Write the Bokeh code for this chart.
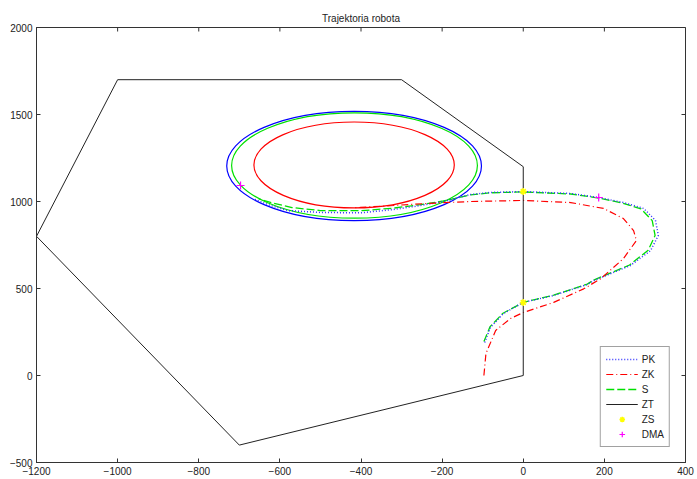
from bokeh.plotting import figure
from bokeh.models import FixedTicker, Legend, LegendItem, Range1d
from bokeh.embed import file_html
from bokeh.resources import INLINE

# ---- data ----
x_ticks = [-1200, -1000, -800, -600, -400, -200, 0, 200, 400]
y_ticks = [-500, 0, 500, 1000, 1500, 2000]

# PK (blue dotted) path
pk_x = [-95, -81, -49, 0, 75, 158, 174, 264, 314, 333, 326, 297, 247, 186, 117, 0,
        -81, -130, -197, -253, -320, -400, -500, -581, -623, -665]
pk_y = [190, 276, 356, 420, 460, 523, 546, 632, 718, 805, 891, 960, 994, 1023, 1046, 1057,
        1052, 1040, 1000, 977, 954, 935, 937, 948, 977, 1015]

# ZK (red dash-dot) path
zk_x = [-97, -92, -68, -31, 0, 75, 149, 191, 247, 279, 272, 247, 198, 117, 0,
        -130, -236, -320, -401, -417]
zk_y = [0, 126, 259, 328, 362, 420, 498, 556, 672, 776, 833, 902, 960, 994, 1006,
        1000, 989, 977, 966, 964]

# S (green dashed) path
s_x = [-97, -82, -50, 0, 75, 158, 173, 262, 308, 325, 318, 290, 243, 186, 117, 0,
       -81, -130, -197, -253, -320, -400, -500, -570, -615, -652]
s_y = [195, 280, 358, 420, 462, 525, 548, 635, 720, 805, 890, 958, 992, 1020, 1043, 1055,
       1050, 1038, 1003, 982, 962, 947, 948, 965, 990, 1015]

# circular loops: centre x, centre y, radius
loop_cx = [-417, -416, -417]
loop_cy = [1204, 1207, 1210]
loop_r = [314, 303, 247]
loop_col = ["#0000ff", "#00e000", "#ff0000"]

# ZT polygon (black)
zt_x = [-1200, -1000, -300, 0, 0, -700, -1200]
zt_y = [800, 1700, 1700, 1200, 0, -400, 800]

# ZS (yellow) and DMA (magenta) markers
zs_x = [0, 0]
zs_y = [1057, 420]
dma_x = [-697, 186]
dma_y = [1092, 1023]

FONT = "Liberation Sans"
X0, X1 = x_ticks[0], x_ticks[-1]
Y0, Y1 = y_ticks[0], y_ticks[-1]

p = figure(width=697, height=479,
           x_range=Range1d(X0, X1), y_range=Range1d(Y0, Y1),
           output_backend="svg", toolbar_location=None,
           min_border_left=36, min_border_right=12, min_border_top=27, min_border_bottom=17,
           title="Trajektoria robota")
p.title.align = "center"
p.title.text_font = FONT
p.title.text_font_size = "10px"
p.title.text_font_style = "normal"
p.title.text_color = "#222222"
p.title.standoff = 8

p.xgrid.visible = False
p.ygrid.visible = False
p.outline_line_color = "#333333"

def style_axis(ax, ticks):
    ax.ticker = FixedTicker(ticks=ticks)
    ax.major_tick_in = 4
    ax.major_tick_out = 0
    ax.minor_tick_line_color = None
    ax.axis_line_color = "#333333"
    ax.major_tick_line_color = "#333333"
    ax.major_label_text_font = FONT
    ax.major_label_text_font_size = "10px"
    ax.major_label_text_color = "#222222"
    ax.major_label_standoff = 4

style_axis(p.xaxis[0], x_ticks)
style_axis(p.yaxis[0], y_ticks)

# inner ticks on the top and right edges (MATLAB box style)
p.scatter(x=x_ticks, y=[Y1] * len(x_ticks), marker="dash", angle=1.5708,
          size=8, line_color="#333333", line_width=1)
p.scatter(x=[X1] * len(y_ticks), y=y_ticks, marker="dash",
          size=8, line_color="#333333", line_width=1)

# loops
p.ellipse(x=loop_cx, y=loop_cy, width=[2 * r for r in loop_r], height=[2 * r for r in loop_r],
          fill_color=None, line_color=loop_col, line_width=1.2)

r_s = p.line(s_x, s_y, line_color="#00e000", line_dash="8 3", line_width=1.3)
r_pk = p.line(pk_x, pk_y, line_color="#3030ff", line_dash="1 2", line_width=1.5)
r_zk = p.line(zk_x, zk_y, line_color="#ff0000", line_dash="7 3 1 3", line_width=1.2)
r_zt = p.line(zt_x, zt_y, line_color="#222222", line_width=1)
r_zs = p.scatter(zs_x, zs_y, marker="asterisk", size=7, line_color="#ffff00", line_width=1.5)
r_dma = p.scatter(dma_x, dma_y, marker="cross", size=8, line_color="#ff00ff", line_width=1.2)

legend = Legend(items=[
    LegendItem(label="PK", renderers=[r_pk]),
    LegendItem(label="ZK", renderers=[r_zk]),
    LegendItem(label="S", renderers=[r_s]),
    LegendItem(label="ZT", renderers=[r_zt]),
    LegendItem(label="ZS", renderers=[r_zs]),
    LegendItem(label="DMA", renderers=[r_dma]),
], location="bottom_right")
legend.border_line_color = "#444444"
legend.border_line_width = 1
legend.label_text_font = FONT
legend.label_text_font_size = "10px"
legend.label_text_color = "#222222"
legend.glyph_width = 32
legend.glyph_height = 14
legend.label_height = 14
legend.spacing = 1
legend.padding = 5
legend.margin = 15
legend.label_standoff = 4
p.add_layout(legend)

open("out.html", "w").write(file_html(p, INLINE))
